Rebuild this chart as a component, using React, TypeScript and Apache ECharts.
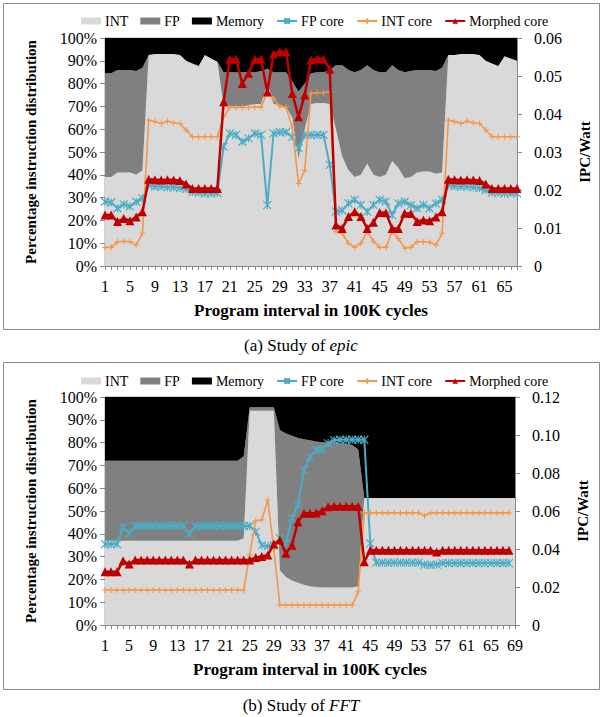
import React, { useEffect, useRef } from "react";
import * as echarts from "echarts";

const FONT = "Liberation Serif";

// ---------- (a) epic : 67 intervals ----------
const epicCats = Array.from({ length: 67 }, (_, i) => String(i + 1));
const epicInt = [39,39,41,41,41,40,42, 92.5,93,93,93,93,92.5,90,88.8,87.7,92.5,91,89.6, 70,70,70,70,70.5,71,71,80,71,70.5,70,65,47,60,71,71.5,71.5,71, 60,48,42,39,40,45,40,39,40,46,43,38.5,39,41,41.5,41.5,40.5,41, 92.5,92.5,93,93,93,92.5,90,88.8,87.7,92,91,90];
const epicFp = [45.5,45.5,45,45,45,45.5,45, 0,0,0,0,0,0,0,0,0,0,0,0, 15,15,15,15,14.5,14,14.5,6.5,14,14.5,15,16,29.5,20,13.5,13.5,13.5,15, 28,40,44,46,46,43,46,46,45,42,43,46.5,46.5,45,44.5,44.5,45,46, 0,0,0,0,0,0,0,0,0,0,0,0];
const epicMem = [15.5,15.5,14,14,14,14.5,13, 7.5,7,7,7,7,7.5,10,11.2,12.3,7.5,9,10.4, 15,15,15,15,15,15,14.5,13.5,15,15,15,19,23.5,20,15.5,15,15,14, 12,12,14,15,14,12,14,15,15,12,14,15,14.5,14,14,14,14.5,13, 7.5,7.5,7,7,7,7.5,10,11.2,12.3,8,9,10];
const epicFpCore = [0.0169,0.0167,0.0152,0.0162,0.0157,0.0169,0.0178, 0.0213,0.0209,0.0209,0.0207,0.0207,0.0205,0.0203,0.0195,0.0193,0.0191,0.0191,0.0192, 0.0314,0.0349,0.0345,0.0327,0.0336,0.0349,0.0345,0.016,0.0349,0.0352,0.0352,0.034,0.031,0.0345,0.0345,0.0345,0.0345,0.0266, 0.0143,0.0146,0.0165,0.0174,0.0161,0.0143,0.0161,0.0174,0.017,0.0134,0.0165,0.0169,0.016,0.0152,0.0161,0.0152,0.0165,0.0174, 0.0213,0.021,0.0209,0.0209,0.0207,0.0205,0.02,0.0193,0.0193,0.0191,0.0192,0.0191];
const epicIntCore = [0.0049,0.0049,0.0064,0.0065,0.0064,0.0055,0.0086, 0.0384,0.038,0.0375,0.0381,0.0377,0.0375,0.0358,0.034,0.034,0.034,0.034,0.034, 0.0393,0.0417,0.0417,0.0417,0.0417,0.0418,0.0418,0.0458,0.0441,0.042,0.0418,0.0366,0.0217,0.0252,0.0454,0.0456,0.0456,0.0458, 0.009,0.0086,0.006,0.0049,0.006,0.0091,0.0065,0.0049,0.0049,0.009,0.0072,0.0047,0.0049,0.0064,0.0064,0.0063,0.0055,0.0086, 0.0384,0.038,0.0375,0.0381,0.0377,0.0375,0.0358,0.034,0.034,0.034,0.034,0.034];
const epicMorphed = [0.0134,0.0134,0.0117,0.0125,0.0119,0.0129,0.0143, 0.0228,0.0227,0.0226,0.0227,0.0226,0.0225,0.0216,0.0204,0.0204,0.0204,0.0204,0.0204, 0.0432,0.0544,0.0544,0.048,0.0507,0.0544,0.0544,0.0458,0.0558,0.0564,0.0564,0.0454,0.0393,0.045,0.0542,0.0545,0.0544,0.0518, 0.0108,0.0099,0.013,0.0143,0.013,0.0099,0.0115,0.0141,0.014,0.0099,0.0099,0.0139,0.0138,0.0117,0.0121,0.0119,0.0129,0.0143, 0.0228,0.0227,0.0226,0.0227,0.0226,0.0225,0.0216,0.0204,0.0204,0.0204,0.0204,0.0204];

// ---------- (b) FFT : 69 intervals ----------
const fftCats = Array.from({ length: 69 }, (_, i) => String(i + 1));
const fftInt = [37,37,37,37,37,37,37,37,37,37,37,37,37,37,37,37,37,37,37,37,37,37,37, 38, 94,94,94,94,94, 24,21,19.5,18.5,17.7,17,16.7, 16.5,16.5,16.5,16.5,16.5,16.5, 17, 55.7,55.7,55.7,55.7,55.7,55.7,55.7,55.7,55.7,55.7,55.7,55.7,55.7,55.7,55.7,55.7,55.7,55.7,55.7,55.7,55.7,55.7,55.7,55.7,55.7,55.7];
const fftFp = [35,35,35,35,35,35,35,35,35,35,35,35,35,35,35,35,35,35,35,35,35,35,35, 36, 1.5,1.5,1.5,1.5,1.5, 61.5,63,63.5,63.5,63.8,64,63.8, 63.7,63.5,63.5,63.2,63,62.5, 60, 0,0,0,0,0,0,0,0,0,0,0,0,0,0,0,0,0,0,0,0,0,0,0,0,0,0];
const fftMem = [28,28,28,28,28,28,28,28,28,28,28,28,28,28,28,28,28,28,28,28,28,28,28, 26, 4.5,4.5,4.5,4.5,4.5, 14.5,16,17,18,18.5,19,19.5, 19.8,20,20,20.3,20.5,21, 23, 44.3,44.3,44.3,44.3,44.3,44.3,44.3,44.3,44.3,44.3,44.3,44.3,44.3,44.3,44.3,44.3,44.3,44.3,44.3,44.3,44.3,44.3,44.3,44.3,44.3,44.3];
const fftFpCore = [0.0426,0.0426,0.0426,0.0514,0.0482, 0.0521,0.0521,0.0521,0.0521,0.0521,0.0521,0.0521,0.0521,0.0521, 0.048, 0.0521,0.0521,0.0521,0.0521,0.0521,0.0521,0.0521,0.0521,0.0521,0.0521, 0.049,0.042,0.0415,0.042,0.0456,0.043,0.0561,0.0631,0.0815,0.0885,0.092,0.0925,0.0956,0.0973, 0.0975,0.0975,0.0975,0.0975,0.0975, 0.043, 0.0328,0.0328,0.0328,0.0328,0.0328,0.0328,0.0328,0.0328, 0.0318,0.0316,0.0318, 0.0326,0.0326,0.0326,0.0326,0.0326,0.0326,0.0326,0.0326,0.0326,0.0326,0.0326,0.0326, null];
const fftIntCore = [0.0184,0.0184,0.0184,0.0184,0.0184,0.0184,0.0184,0.0184,0.0184,0.0184,0.0184,0.0184,0.0184,0.0184,0.0184,0.0184,0.0184,0.0184,0.0184,0.0184,0.0184,0.0184,0.0184,0.0184, 0.037,0.055,0.0553,0.0658,0.04, 0.0105,0.0105,0.0105,0.0105,0.0105,0.0105,0.0105,0.0105,0.0105,0.0105,0.0105,0.0105,0.0105, 0.0175, 0.059,0.059,0.059,0.059,0.059,0.059,0.059,0.059,0.059,0.059, 0.0575, 0.059,0.059,0.059,0.059,0.059,0.059,0.059,0.059,0.059,0.059,0.059,0.059,0.059,0.059, null];
const fftMorphed = [0.028,0.028,0.028,0.0338,0.0321, 0.0342,0.0342,0.0342,0.0342,0.0342,0.0342,0.0342,0.0342,0.0342, 0.0321, 0.0342,0.0342,0.0342,0.0342,0.0342,0.0342,0.0342,0.0342,0.0342,0.0342, 0.0355,0.036,0.0368,0.0426,0.0447,0.0377,0.042,0.0543,0.0588,0.0588,0.059,0.0601,0.0622, 0.0625,0.0625,0.0625,0.0625,0.0625, 0.0333, 0.0394,0.0394,0.0394,0.0394,0.0394,0.0394,0.0394,0.0394,0.0394,0.0394,0.0394, 0.0384, 0.0394,0.0394,0.0394,0.0394,0.0394,0.0394,0.0394,0.0394,0.0394,0.0394,0.0394,0.0394, null];

const pctTicks = [0, 100, 10];
const epicIpcTicks = [0, 0.06, 0.01];
const fftIpcTicks = [0, 0.12, 0.02];

const C_INT = "#d9d9d9";
const C_FP = "#808080";
const C_MEM = "#000000";
const C_FPC = "#4bacc6";
const C_INTC = "#f79646";
const C_MOR = "#c00000";

const ASTERISK = "path://M0,0L10,10M10,0L0,10M5,0L5,10";
const PLUS = "path://M0,5L10,5M5,0L5,10";

function areaSeries(name: string, data: number[], color: string, g: number) {
  return {
    name, type: "line", xAxisIndex: g, yAxisIndex: g * 2, stack: "s" + g, data,
    symbol: "none", showSymbol: false, lineStyle: { width: 0, color }, itemStyle: { color },
    areaStyle: { color, opacity: 1 }, silent: true, z: 1,
  };
}

function panel(g: number, int: number[], fp: number[], mem: number[], fpc: any[], intc: any[], mor: any[]) {
  return [
    areaSeries("INT", int, C_INT, g),
    areaSeries("FP", fp, C_FP, g),
    areaSeries("Memory", mem, C_MEM, g),
    {
      name: "FP core", type: "line", xAxisIndex: g, yAxisIndex: g * 2 + 1, data: fpc,
      symbol: ASTERISK, symbolSize: 8, showAllSymbol: true, lineStyle: { color: C_FPC, width: 2 },
      itemStyle: { color: C_FPC, borderColor: C_FPC, borderWidth: 1.2 }, z: 3,
    },
    {
      name: "INT core", type: "line", xAxisIndex: g, yAxisIndex: g * 2 + 1, data: intc,
      symbol: PLUS, symbolSize: 6, showAllSymbol: true, lineStyle: { color: C_INTC, width: 1.6 },
      itemStyle: { color: C_INTC, borderColor: C_INTC, borderWidth: 1 }, z: 4,
    },
    {
      name: "Morphed core", type: "line", xAxisIndex: g, yAxisIndex: g * 2 + 1, data: mor,
      symbol: "triangle", symbolSize: 9, showAllSymbol: true, lineStyle: { color: C_MOR, width: 2.5 },
      itemStyle: { color: C_MOR }, z: 5,
    },
  ];
}

function xAxis(g: number, cats: string[]) {
  return {
    type: "category", gridIndex: g, data: cats, boundaryGap: false,
    axisLine: { lineStyle: { color: "#888" } },
    axisTick: { interval: 0, length: 4, lineStyle: { color: "#888" } },
    axisLabel: { interval: 3, fontSize: 16, fontFamily: FONT, color: "#000", margin: 12 },
    splitLine: { show: false },
    name: "Program interval in 100K cycles", nameLocation: "middle", nameGap: 36,
    nameTextStyle: { fontSize: 17, fontWeight: "bold", fontFamily: FONT, color: "#000" },
  };
}

function pctAxis(g: number) {
  return {
    type: "value", gridIndex: g, min: pctTicks[0], max: pctTicks[1], interval: pctTicks[2],
    axisLine: { show: true, lineStyle: { color: "#888" } },
    axisTick: { show: true, length: 5, lineStyle: { color: "#888" } },
    axisLabel: { formatter: "{value}%", fontSize: 16, fontFamily: FONT, color: "#000", margin: 8 },
    splitLine: { show: false },
    name: "Percentage instruction distribution", nameLocation: "middle", nameRotate: 90, nameGap: 67,
    nameTextStyle: { fontSize: 15, fontWeight: "bold", fontFamily: FONT, color: "#000" },
  };
}

function ipcAxis(g: number, t: number[]) {
  return {
    type: "value", gridIndex: g, position: "right", min: t[0], max: t[1], interval: t[2],
    axisLine: { show: true, lineStyle: { color: "#888" } },
    axisTick: { show: true, length: 5, lineStyle: { color: "#888" } },
    axisLabel: {
      formatter: (v: number) => (v === 0 ? "0" : v.toFixed(2)),
      fontSize: 16, fontFamily: FONT, color: "#000", margin: 17,
    },
    splitLine: { show: false },
    name: "IPC/Watt", nameLocation: "middle", nameRotate: 90, nameGap: 60,
    nameTextStyle: { fontSize: 15, fontWeight: "bold", fontFamily: FONT, color: "#000" },
  };
}

const legendData = [
  { name: "INT", icon: "rect" },
  { name: "FP", icon: "rect" },
  { name: "Memory", icon: "rect" },
  { name: "FP core" },
  { name: "INT core" },
  { name: "Morphed core" },
];

function legend(top: number) {
  return {
    top, left: 76, orient: "horizontal", itemWidth: 20, itemHeight: 7, itemGap: 12,
    data: legendData, selectedMode: false,
    textStyle: { fontSize: 14, fontFamily: FONT, color: "#000", padding: [0, 0, 0, -1] },
  };
}

function caption(label: string, word: string, y: number) {
  return {
    type: "text", x: 301, y,
    style: {
      text: "{n|" + label + "}{i|" + word + "}",
      align: "center", verticalAlign: "middle",
      rich: {
        n: { fontSize: 17, fontFamily: FONT, fill: "#000" },
        i: { fontSize: 17, fontFamily: FONT, fontStyle: "italic", fill: "#000" },
      },
    },
  };
}

const option = {
  animation: false,
  backgroundColor: "#fff",
  textStyle: { fontFamily: FONT },
  grid: [
    { left: 105, right: 86, top: 38, height: 228, show: true, borderColor: "#a6a6a6", borderWidth: 1, backgroundColor: "transparent" },
    { left: 105, right: 88, top: 397, height: 228, show: true, borderColor: "#a6a6a6", borderWidth: 1, backgroundColor: "transparent" },
  ],
  legend: [legend(9), legend(369)],
  xAxis: [xAxis(0, epicCats), xAxis(1, fftCats)],
  yAxis: [pctAxis(0), ipcAxis(0, epicIpcTicks), pctAxis(1), ipcAxis(1, fftIpcTicks)],
  series: [
    ...panel(0, epicInt, epicFp, epicMem, epicFpCore, epicIntCore, epicMorphed),
    ...panel(1, fftInt, fftFp, fftMem, fftFpCore, fftIntCore, fftMorphed),
  ],
  graphic: [
    { type: "rect", shape: { x: 3.5, y: 3.5, width: 596, height: 326 }, style: { fill: "none", stroke: "#8c8c8c", lineWidth: 1 }, silent: true },
    { type: "rect", shape: { x: 3.5, y: 362.5, width: 596, height: 327 }, style: { fill: "none", stroke: "#8c8c8c", lineWidth: 1 }, silent: true },
    caption("(a) Study of ", "epic", 345),
    caption("(b) Study of ", "FFT", 705),
  ],
};

export default function App() {
  const ref = useRef<HTMLDivElement>(null);
  useEffect(() => {
    const chart = echarts.init(ref.current!, null, { renderer: "svg" });
    chart.setOption(option as any);
    return () => chart.dispose();
  }, []);
  return (
    <div
      ref={ref}
      style={{ position: "absolute", left: 0, top: 0, width: 603, height: 717, background: "#fff" }}
    />
  );
}
